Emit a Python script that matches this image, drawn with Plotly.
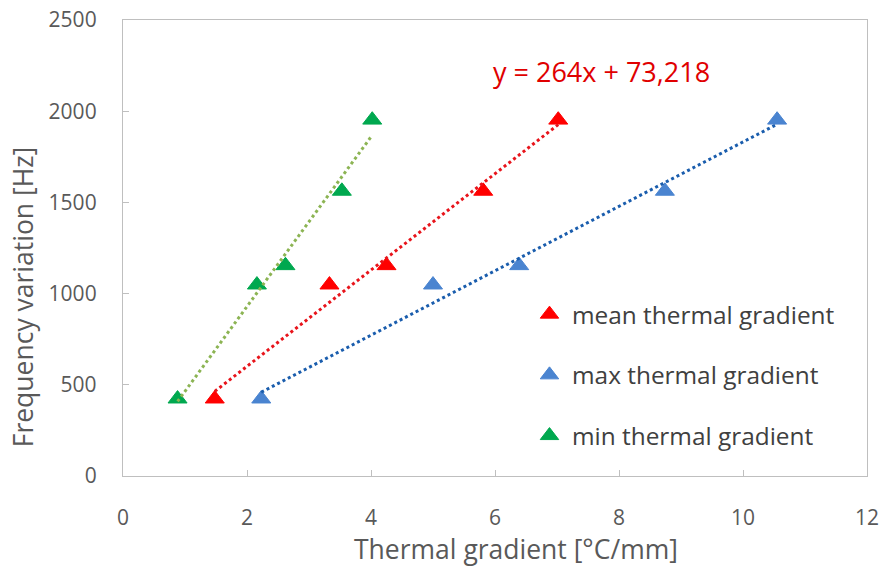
import numpy as np
import plotly.graph_objects as go

# Frequency variation [Hz] measured at each load step
freq_hz = [423, 1048, 1154, 1562, 1952]

# Thermal gradient [°C/mm] for each statistic
grad_mean = [1.48, 3.33, 4.25, 5.81, 7.02]
grad_max = [2.23, 5.00, 6.39, 8.74, 10.55]
grad_min = [0.88, 2.16, 2.62, 3.53, 4.02]

# Linear trend reported for the mean gradient
mean_slope = 264
mean_intercept = 73.218

series_names = ["mean thermal gradient", "max thermal gradient", "min thermal gradient"]
marker_colors = ["#FF0000", "#4A84D0", "#00A84F"]
trend_colors = ["#E8141B", "#1A5DAD", "#8CB453"]

x_ticks = [0, 2, 4, 6, 8, 10, 12]
y_ticks = [0, 500, 1000, 1500, 2000, 2500]

FONT = "Open Sans"
TEXT_GREY = "#595959"
FRAME_GREY = "#BFBFBF"

fig = go.Figure()

all_x = [grad_mean, grad_max, grad_min]
for i, (xs, name) in enumerate(zip(all_x, series_names)):
    fig.add_trace(go.Scatter(
        x=xs, y=freq_hz, mode="markers", name=name,
        legendgroup=name,
        marker=dict(symbol="triangle-up", size=16.5, color=marker_colors[i],
                    line=dict(width=1, color=marker_colors[i])),
    ))

# Dotted linear trendlines spanning each series' x-range
for i, xs in enumerate(all_x):
    if i == 0:
        slope, intercept = mean_slope, mean_intercept
    else:
        slope, intercept = np.polyfit(xs, freq_hz, 1)
    xl = np.array([min(xs), max(xs)])
    fig.add_trace(go.Scatter(
        x=xl, y=slope * xl + intercept, mode="lines", showlegend=False,
        hoverinfo="skip",
        line=dict(color=trend_colors[i], width=3, dash="dot"),
    ))

eq_text = f"y = {mean_slope}x + {mean_intercept:.3f}".replace(".", ",")
fig.add_annotation(
    x=7.71, y=2220, xref="x", yref="y", text=eq_text, showarrow=False,
    xanchor="center", yanchor="middle",
    font=dict(family=FONT, size=27, color="#E00000"),
)

# Axis titles
fig.add_annotation(
    x=0.528, y=-0.160, xref="paper", yref="paper",
    xanchor="center", yanchor="middle",
    text="Thermal gradient [°C/mm]", showarrow=False,
    font=dict(family=FONT, size=26.5, color=TEXT_GREY),
)
fig.add_annotation(
    x=-0.1345, y=0.394, xref="paper", yref="paper", textangle=-90,
    xanchor="center", yanchor="middle",
    text="Frequency variation [Hz]", showarrow=False,
    font=dict(family=FONT, size=26.5, color=TEXT_GREY),
)

axis_common = dict(
    showgrid=False, zeroline=False, showline=True, mirror=True,
    linecolor=FRAME_GREY, linewidth=1.3, automargin=False,
    ticks="inside", ticklen=6, tickwidth=1.3, tickcolor=FRAME_GREY,
    tickfont=dict(family=FONT, size=21, color=TEXT_GREY),
)

fig.update_xaxes(range=[0, 12], tickvals=x_ticks, ticklabelstandoff=23, **axis_common)
fig.update_yaxes(range=[0, 2500], tickvals=y_ticks, ticklabelstandoff=21, **axis_common)

fig.update_layout(
    width=881, height=567,
    margin=dict(l=123, r=14, t=20, b=91),
    paper_bgcolor="white", plot_bgcolor="white",
    showlegend=True,
    legend=dict(
        x=0.543, y=0.404, xanchor="left", yanchor="top",
        traceorder="grouped", tracegroupgap=26,
        bgcolor="rgba(0,0,0,0)",
        font=dict(family=FONT, size=24.4, color="#404040"),
        itemwidth=35,
    ),
)

fig.write_html("out.html")
